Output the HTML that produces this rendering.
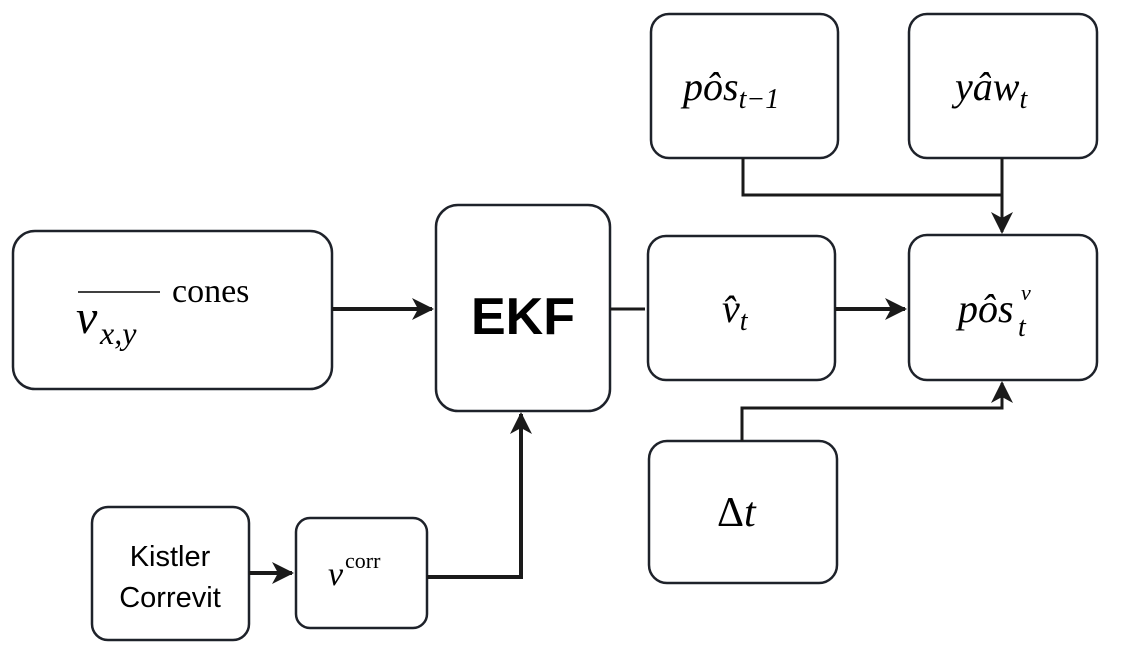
<!DOCTYPE html>
<html><head><meta charset="utf-8"><style>
body{margin:0;background:#fff}
svg text{font-family:"Liberation Serif",serif;fill:#000}
</style></head><body>
<svg width="1129" height="658" viewBox="0 0 1129 658" xmlns="http://www.w3.org/2000/svg">
<defs>
<marker id="b" markerWidth="22" markerHeight="22" refX="20" refY="11" orient="auto" markerUnits="userSpaceOnUse" viewBox="0 0 22 22">
<path d="M0,0 L22,11 L0,22 L6,11 Z" fill="#1a1a1a"/></marker>
</defs>
<g fill="#fff" stroke="#1e222a" stroke-width="2.5">
<rect x="13" y="231" width="319" height="158" rx="22"/>
<rect x="436" y="205" width="174" height="206" rx="22"/>
<rect x="648" y="236" width="187" height="144" rx="18"/>
<rect x="909" y="235" width="188" height="145" rx="18"/>
<rect x="651" y="14" width="187" height="144" rx="18"/>
<rect x="909" y="14" width="188" height="144" rx="18"/>
<rect x="649" y="441" width="188" height="142" rx="18"/>
<rect x="92" y="507" width="157" height="133" rx="16"/>
<rect x="296" y="518" width="131" height="110" rx="14"/>
</g>
<g fill="none" stroke="#1a1a1a" stroke-width="4">
<path d="M332 309 H432" marker-end="url(#b)"/>
<path d="M835 309 H905" marker-end="url(#b)"/>
<path d="M427 577 H521 V414" marker-end="url(#b)"/>
<path d="M249 573 H292" marker-end="url(#b)"/>
<path d="M610 309 H645" stroke-width="3"/>
<path d="M743 158 V195 H1002" stroke-width="3"/>
<path d="M1002 158 V232" stroke-width="3" marker-end="url(#b)"/>
<path d="M742 441 V408 H1002 V383" stroke-width="3" marker-end="url(#b)"/>
</g>
<line x1="78" y1="292" x2="160" y2="292" stroke="#000" stroke-width="1.5"/>
<text x="76" y="333" font-size="48" font-style="italic">v</text>
<text x="100" y="344" font-size="32" font-style="italic">x,y</text>
<text x="172" y="302" font-size="34">cones</text>
<text x="523" y="334" font-size="52" font-weight="bold" text-anchor="middle" style="font-family:'Liberation Sans',sans-serif">EKF</text>
<text x="683" y="100" font-size="40" font-style="italic">pôs<tspan font-size="28" dy="8">t−1</tspan></text>
<text x="955" y="100" font-size="40" font-style="italic">yâw<tspan font-size="28" dy="8">t</tspan></text>
<text x="722" y="322" font-size="40" font-style="italic">v̂<tspan font-size="28" dy="8">t</tspan></text>
<text x="958" y="322" font-size="40" font-style="italic">pôs</text>
<text x="1021" y="300" font-size="22" font-style="italic">v</text>
<text x="1018" y="336" font-size="28" font-style="italic">t</text>
<text x="717" y="526" font-size="42">Δ<tspan font-style="italic">t</tspan></text>
<text x="328" y="585" font-size="34" font-style="italic">v</text>
<text x="345" y="568" font-size="22">corr</text>
<text x="170" y="566" font-size="29" text-anchor="middle" style="font-family:'Liberation Sans',sans-serif">Kistler</text>
<text x="170" y="607" font-size="29" text-anchor="middle" style="font-family:'Liberation Sans',sans-serif">Correvit</text>
</svg>
</body></html>
